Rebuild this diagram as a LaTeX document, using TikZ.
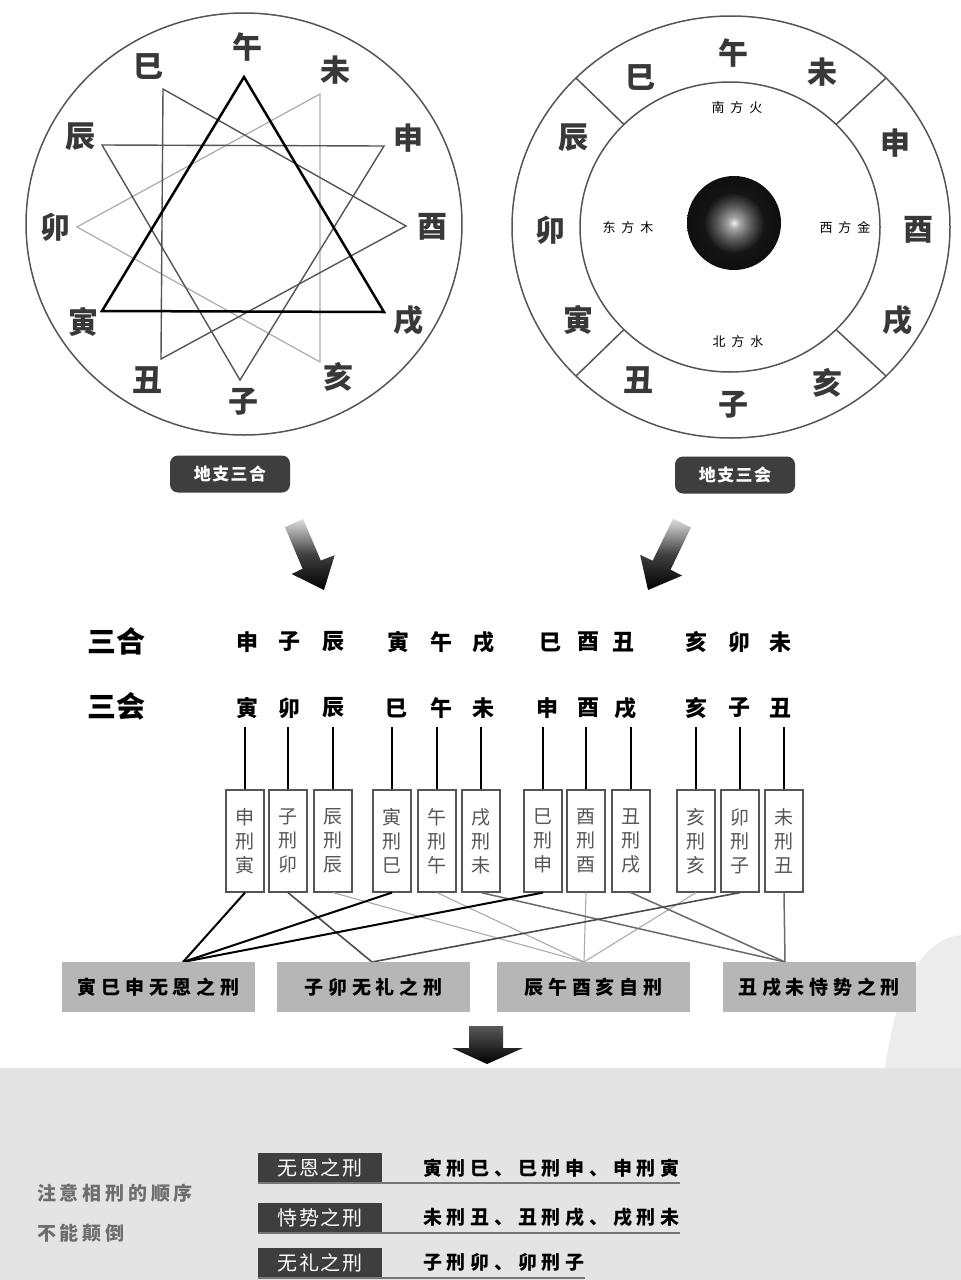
\documentclass[tikz,border=0pt]{standalone}
\usepackage{fontspec}
\setmainfont{Noto Sans CJK SC}
\newfontfamily\cjksp[LetterSpace=25]{Noto Sans CJK SC}
\newfontfamily\cjknote[LetterSpace=20]{Noto Sans CJK SC}
\newfontfamily\cjksmall[LetterSpace=45]{Noto Sans CJK SC}
\newfontfamily\cjkbadge[LetterSpace=8]{Noto Sans CJK SC}
\definecolor{ink}{HTML}{383838}
\definecolor{linegray}{HTML}{555555}
\definecolor{midline}{HTML}{6A6A6A}
\definecolor{lightline}{HTML}{ABABAB}
\definecolor{badgefill}{HTML}{3E3E3E}
\definecolor{boxgray}{HTML}{B6B6B6}
\definecolor{bggray}{HTML}{E4E4E4}
\definecolor{textgray}{HTML}{555555}
\definecolor{notegray}{HTML}{6E6E6E}
\pgfdeclareradialshading{sphereshade}{\pgfpoint{0bp}{0bp}}{color(0bp)=(white!90!gray); color(3bp)=(gray!70!white); color(9bp)=(black!65); color(16bp)=(black!92); color(50bp)=(black)}
\begin{document}
\begin{tikzpicture}[x=1pt,y=-1pt,
  lbl/.style={font=\bfseries\fontsize{30}{30}\selectfont, text=ink, inner sep=0},
  inlbl/.style={font=\cjksmall\fontsize{13}{13}\selectfont, text=black, inner sep=0},
  topbadge/.style={fill=badgefill, rounded corners=8, text=white, font=\cjkbadge\bfseries\fontsize{17}{17}\selectfont, minimum width=120, minimum height=37, inner sep=0},
  rowlab/.style={font=\bfseries\fontsize{29}{29}\selectfont, text=black, inner sep=0},
  rowch/.style={font=\bfseries\fontsize{22}{22}\selectfont, text=black, inner sep=0, minimum height=38},
  kbox/.style={draw=linegray, line width=1.2, fill=white, text=textgray, font=\fontsize{19}{24}\selectfont, align=center, minimum width=38, minimum height=102, inner sep=0},
  gbox/.style={fill=boxgray, text=black, font=\cjksp\bfseries\fontsize{19}{19}\selectfont, minimum width=193, minimum height=50, inner sep=0},
  mbadge/.style={fill=badgefill, text=white, font=\cjkbadge\fontsize{20}{20}\selectfont, minimum width=124, minimum height=30, inner sep=0},
  mtext/.style={font=\cjksp\bfseries\fontsize{19}{19}\selectfont, text=black, inner sep=0, anchor=west},
  note/.style={font=\cjknote\bfseries\fontsize{19}{19}\selectfont, text=notegray, inner sep=0, anchor=west},
  conn1/.style={black, line width=2},
  conn2/.style={black!70, line width=1.6},
  conn3/.style={lightline, line width=1.1},
  conn4/.style={midline, line width=1.5},
  uline/.style={linegray!80, line width=1.6}]
\useasboundingbox (0,0) rectangle (961,1280);
\fill[white] (0,0) rectangle (961,1280);
% bottom background
\fill[bggray] (0,1068) rectangle (961,1280);
\fill[bggray!70] (961,935) .. controls (915,940) and (895,1000) .. (885,1068) -- (961,1068) -- cycle;

% ---------- left circle: triple combinations ----------
\draw[linegray, line width=1.5] (244,224) ellipse [x radius=218, y radius=211];
\draw[lightline, line width=1.2, line join=miter] (320,94) -- (77,227) -- (320,362) -- cycle;
\draw[linegray, line width=1.4, line join=miter] (102,145) -- (384,146) -- (240,380) -- cycle;
\draw[linegray, line width=1.4, line join=miter] (163,89) -- (406,226) -- (161,359) -- cycle;
\draw[black, line width=2.5, line join=miter] (244,77) -- (102,311) -- (384,312) -- cycle;
\foreach \t/\x/\y/\n in {午/247/47/wu, 未/335/70/wei, 申/408/138/shen, 酉/432/227/you, 戌/408/320/xu, 亥/338/377/hai, 子/243/402/zi, 丑/147/380/chou, 寅/83/322/yin, 卯/55/227/mao, 辰/80/137/chen, 巳/148/67/si}
  \node[lbl] (L\n) at (\x,\y) {\t};
\node[topbadge] (badgeL) at (230,474) {地支三合};

% ---------- right circle: directional assemblies ----------
\draw[linegray, line width=1.5] (731,227) ellipse [x radius=219, y radius=211];
\draw[linegray, line width=1.5] (730,227) ellipse [x radius=150, y radius=145];
\draw[linegray, line width=1.5] (576,78) -- (624,124.5);
\draw[linegray, line width=1.5] (886,78) -- (836,124.5);
\draw[linegray, line width=1.5] (576,376) -- (624,329.5);
\draw[linegray, line width=1.5] (886,376) -- (836,329.5);
\shade[shading=sphereshade] (734,223) circle (47);
\foreach \t/\x/\y/\n in {午/733/53/wu, 未/822/72/wei, 申/895/143/shen, 酉/918/230/you, 戌/897/320/xu, 亥/827/383/hai, 子/733/405/zi, 丑/638/380/chou, 寅/578/320/yin, 卯/550/230/mao, 辰/573/138/chen, 巳/640/78/si}
  \node[lbl] (R\n) at (\x,\y) {\t};
\node[inlbl] (south) at (737,108) {南方火};
\node[inlbl] (east) at (628,228) {东方木};
\node[inlbl] (west) at (845,228) {西方金};
\node[inlbl] (north) at (738,342) {北方水};
\node[topbadge] (badgeR) at (735,475) {地支三会};

% ---------- gradient arrows ----------
\shade[top color=gray!25, bottom color=black, middle color=black!75]
  (303.1,518.9) -- (320.8,560.5) -- (334.7,555.2) -- (324,590) -- (291.7,574.0) -- (302.6,568.7) -- (284.9,527.1) -- cycle;
\shade[top color=gray!25, bottom color=black, middle color=black!75]
  (690.9,527.5) -- (670.5,569.7) -- (682.1,575.6) -- (648,590) -- (640.1,554.8) -- (652.7,560.7) -- (673.1,518.5) -- cycle;

% ---------- rows ----------
\node[rowlab] (h1) at (116,641) {三合};
\node[rowlab] (h2) at (116,706) {三会};
\foreach \t/\x [count=\i] in {申/247, 子/289, 辰/333, 寅/398, 午/441, 戌/483, 巳/550, 酉/588, 丑/623, 亥/696, 卯/739, 未/780}
  \node[rowch] (ra\i) at (\x,642) {\t};
\foreach \t/\x [count=\i] in {寅/247, 卯/289, 辰/333, 巳/396, 午/441, 未/483, 申/547, 酉/588, 戌/625, 亥/696, 子/739, 丑/780}
  \node[rowch] (rb\i) at (\x,708) {\t};

% ---------- punishment boxes ----------
\foreach \a/\b/\x [count=\i] in {申/寅/245, 子/卯/288, 辰/辰/333, 寅/巳/392, 午/午/437, 戌/未/481, 巳/申/543, 酉/酉/586, 丑/戌/631, 亥/亥/696, 卯/子/740, 未/丑/784}
  \node[kbox] (k\i) at (\x,841) {\a\\刑\\\b};
\foreach \i in {1,...,12}
  \draw[black, line width=2] (k\i.north) -- (k\i.north |- rb\i.south);

% ---------- group targets ----------
\coordinate (t1) at (183,962);
\coordinate (t2) at (372,962);
\coordinate (t3) at (584,962);
\coordinate (t4) at (785,962);
\foreach \i in {3,5,8,10} \draw[conn3] (k\i.south) -- (t3);
\foreach \i in {6,9,12} \draw[conn4] (k\i.south) -- (t4);
\foreach \i in {2,11} \draw[conn2] (k\i.south) -- (t2);
\foreach \i in {1,4,7} \draw[conn1] (k\i.south) -- (t1);
\node[gbox] (g1) at (158.5,987) {寅巳申无恩之刑};
\node[gbox] (g2) at (373.5,987) {子卯无礼之刑};
\node[gbox] (g3) at (593.5,987) {辰午酉亥自刑};
\node[gbox] (g4) at (819,987) {丑戌未恃势之刑};

% ---------- down arrow ----------
\shade[top color=black!65, bottom color=black]
  (469,1026) -- (503,1026) -- (503,1048) -- (523,1048) -- (487,1064) -- (452,1048) -- (469,1048) -- cycle;

% ---------- bottom summary ----------
\node[note] (n1) at (37,1193) {注意相刑的顺序};
\node[note] (n2) at (37,1233) {不能颠倒};
\node[mbadge] (m1) at (320,1168) {无恩之刑};
\node[mbadge] (m2) at (320,1217.5) {恃势之刑};
\node[mbadge] (m3) at (320,1262.5) {无礼之刑};
\node[mtext] (x1) at (423,1168) {寅刑巳、巳刑申、申刑寅};
\node[mtext] (x2) at (423,1217.5) {未刑丑、丑刑戌、戌刑未};
\node[mtext] (x3) at (423,1262.5) {子刑卯、卯刑子};
\draw[uline] (m1.south west) -- (m1.south west -| x1.east);
\draw[uline] (m2.south west) -- (m2.south west -| x2.east);
\draw[uline] (m3.south west) -- (m3.south west -| x3.east);
\end{tikzpicture}
\end{document}
